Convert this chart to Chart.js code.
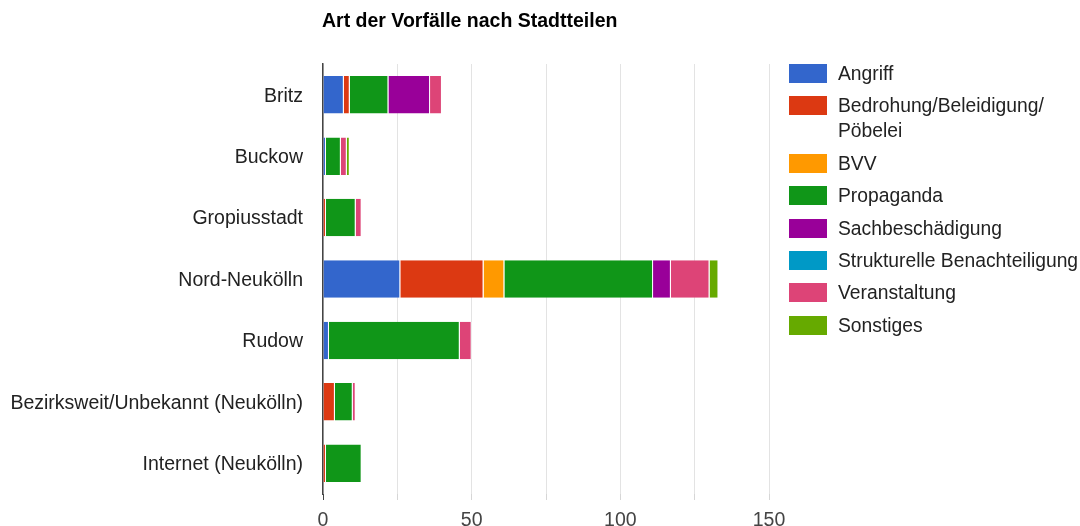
<!DOCTYPE html>
<html>
<head>
<meta charset="utf-8">
<script src="https://cdn.jsdelivr.net/npm/chart.js@4.4.0/dist/chart.umd.min.js"></script>
<style>
  body { margin: 0; background: #fff; font-family: "Liberation Sans", Arial, sans-serif; }
  .wrap { position: relative; width: 1080px; height: 526px; }
  .title { position: absolute; left: 322px; top: 9px; font-weight: bold; font-size: 19.5px; line-height: 22px; color: #000; }
  .legend { position: absolute; left: 789px; top: 61px; font-size: 19.3px; color: #222; }
  .legend-item { display: flex; align-items: flex-start; margin-bottom: 7.4px; line-height: 25px; }
  .legend-box { width: 38px; height: 19px; margin-top: 3px; margin-right: 11px; flex: none; }
  .legend-text { white-space: nowrap; }
  .legend-text.wrap-text { white-space: normal; width: 232px; }
</style>
</head>
<body>
<div class="wrap">
  <canvas id="chart" width="1080" height="526"></canvas>
  <div class="title">Art der Vorfälle nach Stadtteilen</div>
  <div class="legend"></div>
</div>
<script>
const categories = ['Britz', 'Buckow', 'Gropiusstadt', 'Nord-Neukölln', 'Rudow', 'Bezirksweit/Unbekannt (Neukölln)', 'Internet (Neukölln)'];

const angriff = [7, 1, 0, 26, 2, 0, 0];
const bedrohung = [2, 0, 1, 28, 0, 4, 1];
const bvv = [0, 0, 0, 7, 0, 0, 0];
const propaganda = [13, 5, 10, 50, 44, 6, 12];
const sachbeschaedigung = [14, 0, 0, 6, 0, 0, 0];
const strukturell = [0, 0, 0, 0, 0, 0, 0];
const veranstaltung = [4, 2, 2, 13, 4, 1, 0];
const sonstiges = [0, 1, 0, 3, 0, 0, 0];

const xTicks = [0, 50, 100, 150];

const series = [
    {label: 'Angriff', data: angriff, color: '#3366cc'},
    {label: 'Bedrohung/Beleidigung/Pöbelei', data: bedrohung, color: '#dc3912'},
    {label: 'BVV', data: bvv, color: '#ff9900'},
    {label: 'Propaganda', data: propaganda, color: '#109618'},
    {label: 'Sachbeschädigung', data: sachbeschaedigung, color: '#990099'},
    {label: 'Strukturelle Benachteiligung', data: strukturell, color: '#0099c6'},
    {label: 'Veranstaltung', data: veranstaltung, color: '#dd4477'},
    {label: 'Sonstiges', data: sonstiges, color: '#66aa00'}
];

const config = {
    type: 'bar',
    data: {
        labels: categories,
        datasets: series.map((s) => ({
            label: s.label,
            data: s.data,
            backgroundColor: s.color,
            borderColor: 'rgba(255, 255, 255, 0.8)',
            borderWidth: {left: 0, right: 1, top: 0, bottom: 0},
            borderSkipped: false,
            barPercentage: 1,
            categoryPercentage: 0.61
        }))
    },
    options: {
        indexAxis: 'y',
        responsive: false,
        animation: false,
        layout: {padding: {top: 64, right: 311, bottom: 0, left: 0}},
        plugins: {
            legend: {display: false},
            tooltip: {enabled: false}
        },
        scales: {
            x: {
                stacked: true,
                min: 0,
                max: 150,
                afterFit: (scale) => { scale.height = 32; },
                border: {display: false},
                grid: {
                    color: '#e3e3e3',
                    tickColor: (ctx) => ctx.tick && ctx.tick.value === 0 ? '#444' : '#d6d6d6',
                    tickLength: 6,
                    drawTicks: true
                },
                ticks: {
                    stepSize: 25,
                    padding: 9,
                    color: '#444',
                    font: {family: 'Liberation Sans', size: 19.5},
                    callback: (value) => xTicks.includes(value) ? value : ''
                }
            },
            y: {
                stacked: true,
                afterFit: (scale) => { scale.width = 323; },
                border: {display: true, color: '#444', width: 1.5},
                grid: {display: false, drawTicks: false},
                ticks: {
                    padding: 20,
                    labelOffset: 1.5,
                    color: '#222',
                    font: {family: 'Liberation Sans', size: 19.5}
                }
            }
        }
    }
};

new Chart(document.querySelector('#chart').getContext('2d'), config);

// legend as html so the long label can wrap like the original
const legendEl = document.querySelector('.legend');
series.forEach((s) => {
    const item = document.createElement('div');
    item.className = 'legend-item';
    const hasSlash = s.label.includes('/');
    const text = hasSlash ? s.label.split('/').join('/<wbr>') : s.label;
    item.innerHTML = `<div class="legend-box" style="background:${s.color}"></div><div class="legend-text${hasSlash ? ' wrap-text' : ''}">${text}</div>`;
    legendEl.append(item);
});
</script>
</body>
</html>
